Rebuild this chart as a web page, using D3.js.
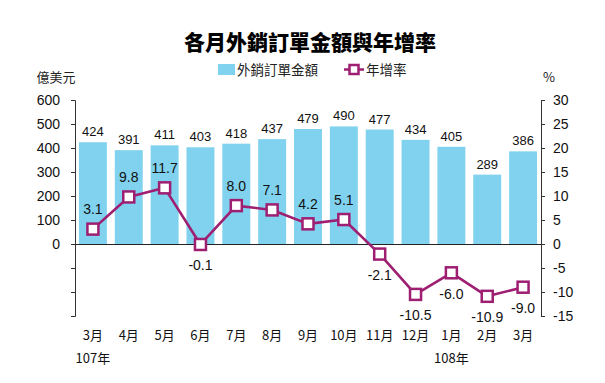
<!DOCTYPE html>
<html><head><meta charset="utf-8">
<script src="https://cdn.jsdelivr.net/npm/d3@7"></script>
<style>
body{margin:0;background:#fff;}
svg{display:block;}
.num{font-family:"Liberation Sans Narrow","Arial Narrow","Liberation Sans",sans-serif;}
</style></head>
<body><svg id="c" width="605" height="383"></svg>
<script>
const months = ["3月","4月","5月","6月","7月","8月","9月","10月","11月","12月","1月","2月","3月"];
const orders = [424,391,411,403,418,437,479,490,477,434,405,289,386];
const growth = [3.1,9.8,11.7,-0.1,8.0,7.1,4.2,5.1,-2.1,-10.5,-6.0,-10.9,-9.0];
const leftTicks = [-300,-200,-100,0,100,200,300,400,500,600];
const rightTicks = [-15,-10,-5,0,5,10,15,20,25,30];
const yearLabels = [{i:0,t:"107年"},{i:10,t:"108年"}];

const svg = d3.select("#c");
const L = 75, R = 541, T = 100, B = 316;
const keys = months.map((m,i)=>i);
const x = d3.scaleBand().domain(keys).range([L,R]).paddingInner(0.22).paddingOuter(0.11);
const yL = d3.scaleLinear().domain([-300,600]).range([B,T]);
const yR = d3.scaleLinear().domain([-15,30]).range([B,T]);
const barColor = "#80d2ee", lineColor = "#9e1f72";
const cjk = '"Noto Sans CJK TC","Noto Sans CJK SC",sans-serif';

// title
svg.append("text").attr("x",310).attr("y",50).attr("text-anchor","middle")
  .style("font-family",cjk).style("font-weight","900").style("font-size","21px")
  .text("各月外銷訂單金額與年增率");

// legend
svg.append("rect").attr("x",218).attr("y",64).attr("width",17).attr("height",11).attr("fill",barColor);
svg.append("text").attr("x",237).attr("y",75).style("font-family",cjk).style("font-size","13.5px").attr("fill","#222").text("外銷訂單金額");
svg.append("line").attr("x1",344).attr("x2",364).attr("y1",69.5).attr("y2",69.5).attr("stroke",lineColor).attr("stroke-width",2.5);
svg.append("rect").attr("x",349.5).attr("y",65).attr("width",9).attr("height",9).attr("fill","#fff").attr("stroke",lineColor).attr("stroke-width",2.5);
svg.append("text").attr("x",366).attr("y",75).style("font-family",cjk).style("font-size","13.5px").attr("fill","#222").text("年增率");

// unit labels
svg.append("text").attr("x",56).attr("y",82).attr("text-anchor","middle").style("font-family",cjk).style("font-size","13px").attr("fill","#222").text("億美元");
svg.append("text").attr("x",549).attr("y",82).attr("text-anchor","middle").style("font-family",cjk).style("font-size","13px").attr("fill","#222").text("%");

// bars
svg.append("g").selectAll("rect").data(orders).join("rect")
  .attr("x",(d,i)=>x(i)).attr("width",x.bandwidth())
  .attr("y",d=>yL(d)).attr("height",d=>yL(0)-yL(d)).attr("fill",barColor);

svg.append("g").selectAll("text").data(orders).join("text").attr("class","num")
  .attr("x",(d,i)=>x(i)+x.bandwidth()/2).attr("y",d=>yL(d)-6)
  .attr("text-anchor","middle").style("font-size","13px").attr("fill","#111").text(d=>d);

// zero line
svg.append("line").attr("x1",L).attr("x2",R).attr("y1",yL(0)+0.5).attr("y2",yL(0)+0.5).attr("stroke","#222").attr("stroke-width",1);

// axes
const axL = svg.append("g").attr("transform",`translate(${L},0)`)
  .call(d3.axisLeft(yL).tickValues(leftTicks).tickSize(4).tickSizeOuter(4).tickPadding(11).tickFormat(d=>d>=0?d:""));
const axR = svg.append("g").attr("transform",`translate(${R},0)`)
  .call(d3.axisRight(yR).tickValues(rightTicks).tickSize(4).tickSizeOuter(4).tickPadding(8).tickFormat(d=>d));
[axL,axR].forEach(a=>{
  a.selectAll("path,line").attr("stroke","#333");
  a.selectAll("text").attr("class","num").style("font-size","14px").attr("fill","#111");
});

// line
const cx = i=>x(i)+x.bandwidth()/2;
svg.append("path").datum(growth)
  .attr("d",d3.line().x((d,i)=>cx(i)).y(d=>yR(d)))
  .attr("fill","none").attr("stroke",lineColor).attr("stroke-width",2.6).attr("stroke-linejoin","round");
svg.append("g").selectAll("rect").data(growth).join("rect")
  .attr("x",(d,i)=>cx(i)-5.5).attr("y",d=>yR(d)-5.5).attr("width",11).attr("height",11)
  .attr("fill","#fff").attr("stroke",lineColor).attr("stroke-width",2.5);
svg.append("g").selectAll("text").data(growth).join("text").attr("class","num")
  .attr("x",(d,i)=>cx(i)).attr("y",d=>d>=0?yR(d)-15:yR(d)+26)
  .attr("text-anchor","middle").style("font-size","14px").attr("fill","#111")
  .text(d=>d.toFixed(1));

// category labels
svg.append("g").selectAll("text").data(months).join("text")
  .attr("x",(d,i)=>cx(i)).attr("y",340).attr("text-anchor","middle")
  .style("font-family",'"Liberation Sans Narrow",'+cjk).style("font-size","13px").attr("fill","#111").text(d=>d);
svg.append("g").selectAll("text").data(yearLabels).join("text")
  .attr("x",d=>cx(d.i)).attr("y",363).attr("text-anchor","middle")
  .style("font-family",'"Liberation Sans Narrow",'+cjk).style("font-size","13px").attr("fill","#111").text(d=>d.t);
</script></body></html>
